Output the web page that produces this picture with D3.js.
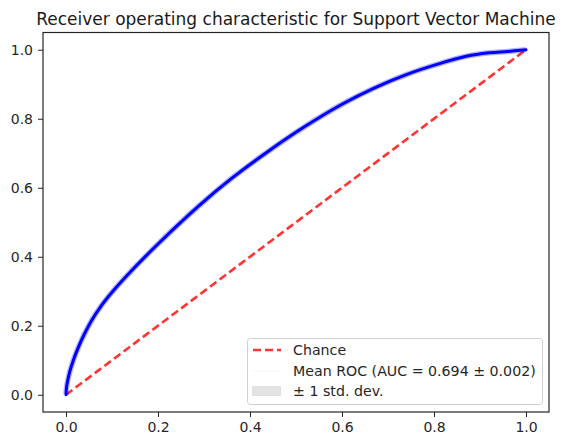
<!DOCTYPE html>
<html>
<head>
<meta charset="utf-8">
<script src="https://cdn.jsdelivr.net/npm/d3@7"></script>
<style>
  html, body { margin: 0; padding: 0; background: #fff; }
  svg { display: block; font-family: "DejaVu Sans", sans-serif; }
</style>
</head>
<body>
<svg id="chart" width="562" height="442"></svg>
<script>
// Mean ROC over cross-validation folds (false positive rate vs true positive rate)
const fpr = [0, 0.001, 0.003, 0.008, 0.016, 0.027, 0.04, 0.056, 0.075, 0.1, 0.13, 0.2, 0.29, 0.36, 0.44, 0.52, 0.6, 0.67, 0.74, 0.81, 0.87, 0.92, 0.96, 1];
const tpr = [0, 0.019, 0.036, 0.066, 0.10, 0.138, 0.176, 0.216, 0.255, 0.297, 0.342, 0.437, 0.549, 0.627, 0.706, 0.778, 0.842, 0.889, 0.928, 0.959, 0.981, 0.991, 0.995, 1];
// Standard deviation of TPR across folds
const tprStd = [0, 0.001, 0.002, 0.002, 0.003, 0.003, 0.004, 0.004, 0.005, 0.005, 0.005, 0.006, 0.006, 0.006, 0.006, 0.005, 0.005, 0.004, 0.004, 0.003, 0.003, 0.002, 0.002, 0];
const chanceLine = [0, 1];
const xTicks = [0, 0.2, 0.4, 0.6, 0.8, 1.0];
const yTicks = [0, 0.2, 0.4, 0.6, 0.8, 1.0];
const titleText = "Receiver operating characteristic for Support Vector Machine";
const legendLabels = ["Chance", "Mean ROC (AUC = 0.694 \u00b1 0.002)", "\u00b1 1 std. dev."];

const svg = d3.select("#chart");
const plot = { left: 43, right: 549, top: 32.5, bottom: 412 };

const x = d3.scaleLinear().domain([-0.05, 1.05]).range([plot.left, plot.right]);
const y = d3.scaleLinear().domain([-0.05, 1.05]).range([plot.bottom, plot.top]);

const pts = fpr.map((f, i) => ({ f, t: tpr[i], s: tprStd[i] }));
const smooth = d3.curveCatmullRom.alpha(0.5);

const g = svg.append("g");

// ±1 std band
g.append("path")
  .datum(pts)
  .attr("fill", "#7f7f7f")
  .attr("fill-opacity", 0.25)
  .attr("d", d3.area()
    .x(d => x(d.f))
    .y0(d => y(Math.max(0, d.t - d.s)))
    .y1(d => y(Math.min(1, d.t + d.s)))
    .curve(smooth));

// Chance diagonal
g.append("line")
  .attr("x1", x(chanceLine[0])).attr("y1", y(chanceLine[0]))
  .attr("x2", x(chanceLine[1])).attr("y2", y(chanceLine[1]))
  .attr("stroke", "#ff0000").attr("stroke-opacity", 0.8)
  .attr("stroke-width", 2.6)
  .attr("stroke-dasharray", "8,4");

// ROC curves (soft halo + core)
const rocLine = d3.line().x(d => x(d.f)).y(d => y(d.t)).curve(smooth);
g.append("path").datum(pts)
  .attr("fill", "none").attr("stroke", "#0000ff").attr("stroke-opacity", 0.3)
  .attr("stroke-width", 5.5).attr("stroke-linejoin", "round").attr("d", rocLine);
g.append("path").datum(pts)
  .attr("fill", "none").attr("stroke", "#0000ff")
  .attr("stroke-width", 3).attr("stroke-linejoin", "round").attr("stroke-linecap", "round").attr("d", rocLine);

// Axes
const xAxis = d3.axisBottom(x).tickValues(xTicks).tickFormat(d3.format(".1f")).tickSize(5).tickPadding(5);
const yAxis = d3.axisLeft(y).tickValues(yTicks).tickFormat(d3.format(".1f")).tickSize(5).tickPadding(5);

const gx = svg.append("g").attr("transform", `translate(0,${plot.bottom})`).call(xAxis);
const gy = svg.append("g").attr("transform", `translate(${plot.left},0)`).call(yAxis);
[gx, gy].forEach(a => {
  a.select(".domain").remove();
  a.selectAll("text").attr("font-size", 14).attr("fill", "#262626").attr("font-family", "DejaVu Sans");
  a.selectAll("line").attr("stroke", "#262626");
});

// Frame
svg.append("rect")
  .attr("x", plot.left).attr("y", plot.top)
  .attr("width", plot.right - plot.left).attr("height", plot.bottom - plot.top)
  .attr("fill", "none").attr("stroke", "#262626").attr("stroke-width", 1.2);

// Title
svg.append("text")
  .attr("x", (plot.left + plot.right) / 2).attr("y", 25)
  .attr("text-anchor", "middle").attr("font-size", 17).attr("fill", "#1a1a1a")
  .text(titleText);

// Legend
const lg = svg.append("g");
lg.append("rect")
  .attr("x", 247.5).attr("y", 338.5).attr("width", 295).attr("height", 66).attr("rx", 3)
  .attr("fill", "#fff").attr("fill-opacity", 0.85).attr("stroke", "#d0d0d0");
const rowY = [350, 371, 391];
lg.append("line").attr("x1", 253).attr("x2", 281).attr("y1", rowY[0]).attr("y2", rowY[0])
  .attr("stroke", "#ff0000").attr("stroke-opacity", 0.8).attr("stroke-width", 2.6).attr("stroke-dasharray", "8,4");
lg.append("line").attr("x1", 253).attr("x2", 281).attr("y1", rowY[1]).attr("y2", rowY[1])
  .attr("stroke", "#0000ff").attr("stroke-opacity", 0.03).attr("stroke-width", 1.5);
lg.append("rect").attr("x", 252.5).attr("y", 386.5).attr("width", 28).attr("height", 9)
  .attr("fill", "#7f7f7f").attr("fill-opacity", 0.22).attr("stroke", "#7f7f7f").attr("stroke-opacity", 0.15);
legendLabels.forEach((t, i) => {
  lg.append("text").attr("x", 293).attr("y", rowY[i] + 5)
    .attr("font-size", 14.2).attr("fill", "#262626").text(t);
});
</script>
</body>
</html>
